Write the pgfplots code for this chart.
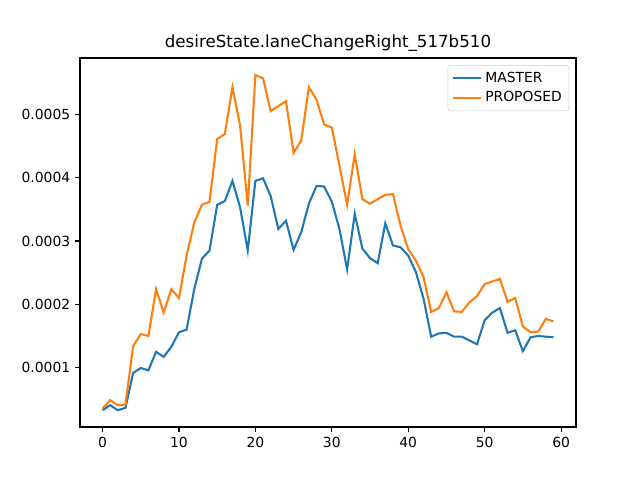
\documentclass[border=0pt]{standalone}
\usepackage{pgfplots}
\pgfplotsset{compat=1.18}
\usepackage{fontspec}
\setmainfont{DejaVu Sans}
\definecolor{mblue}{HTML}{1F77B4}
\definecolor{morange}{HTML}{FF7F0E}
\begin{document}
\begin{tikzpicture}
\useasboundingbox (-57.6pt,-38.16pt) rectangle (357.12pt+46.08pt,265.68pt+41.76pt);
\begin{axis}[
  at={(0,0)}, anchor=south west,
  scale only axis, width=357.12pt, height=265.68pt,
  xmin=-2.95, xmax=61.95, ymin=0.0000063, ymax=0.000589,
  xtick={0,10,20,30,40,50,60},
  ytick={0.0001,0.0002,0.0003,0.0004,0.0005},
  scaled y ticks=false,
  yticklabel style={/pgf/number format/fixed,/pgf/number format/precision=4},
  /pgf/number format/assume math mode=true,
  tick align=outside, tick pos=left,
  major tick length=3.5pt,
  tick style={black, line width=0.8pt},
  axis line style={line width=0.8pt},
  ticklabel style={font=\fontsize{10}{12}\selectfont},
  title={desireState.laneChangeRight\_517b510},
  title style={font=\fontsize{12}{14}\selectfont, yshift=-5pt},
  legend style={at={(0.986,0.981)}, anchor=north east, font=\fontsize{10}{12}\selectfont,
    draw=black!20, rounded corners=2pt, row sep=1pt, inner sep=3pt},
  legend cell align=left,
  legend image code/.code={\draw[#1] (0cm,0cm) -- (0.72cm,0cm);},
]
\addplot[mblue, line width=1.5pt] coordinates {
(0,0.0000328)(1,0.0000407)(2,0.0000328)(3,0.0000365)(4,0.0000916)(5,0.0000995)(6,0.0000958)(7,0.000125)(8,0.000117)(9,0.000133)
(10,0.000156)(11,0.00016)(12,0.000224)(13,0.000272)(14,0.000285)(15,0.000357)(16,0.000363)(17,0.000395)(18,0.000353)(19,0.000285)
(20,0.000395)(21,0.000399)(22,0.000371)(23,0.000319)(24,0.000332)(25,0.000286)(26,0.000314)(27,0.000359)(28,0.000387)(29,0.000386)
(30,0.000362)(31,0.000319)(32,0.000255)(33,0.000343)(34,0.000288)(35,0.000273)(36,0.000265)(37,0.000328)(38,0.000293)(39,0.00029)
(40,0.000277)(41,0.000251)(42,0.000209)(43,0.000149)(44,0.000154)(45,0.000155)(46,0.000149)(47,0.000149)(48,0.000143)(49,0.000137)
(50,0.000175)(51,0.000187)(52,0.000194)(53,0.000155)(54,0.000159)(55,0.000126)(56,0.000148)(57,0.00015)(58,0.000149)(59,0.000148)
};
\addlegendentry{MASTER}
\addplot[morange, line width=1.5pt] coordinates {
(0,0.0000354)(1,0.0000486)(2,0.0000407)(3,0.0000417)(4,0.000134)(5,0.000153)(6,0.00015)(7,0.000224)(8,0.000187)(9,0.000224)
(10,0.00021)(11,0.000277)(12,0.000329)(13,0.000357)(14,0.000362)(15,0.000461)(16,0.000469)(17,0.000543)(18,0.000482)(19,0.000356)
(20,0.000562)(21,0.000557)(22,0.000505)(23,0.000513)(24,0.000521)(25,0.000439)(26,0.000459)(27,0.000543)(28,0.000523)(29,0.000484)
(30,0.000479)(31,0.000419)(32,0.000357)(33,0.000437)(34,0.000366)(35,0.000359)(36,0.000366)(37,0.000373)(38,0.000374)(39,0.000324)
(40,0.000287)(41,0.000269)(42,0.000243)(43,0.000188)(44,0.000194)(45,0.000219)(46,0.000189)(47,0.000188)(48,0.000203)(49,0.000213)
(50,0.000232)(51,0.000236)(52,0.00024)(53,0.000204)(54,0.00021)(55,0.000165)(56,0.000156)(57,0.000157)(58,0.000177)(59,0.000173)
};
\addlegendentry{PROPOSED}
\end{axis}
\end{tikzpicture}
\end{document}
